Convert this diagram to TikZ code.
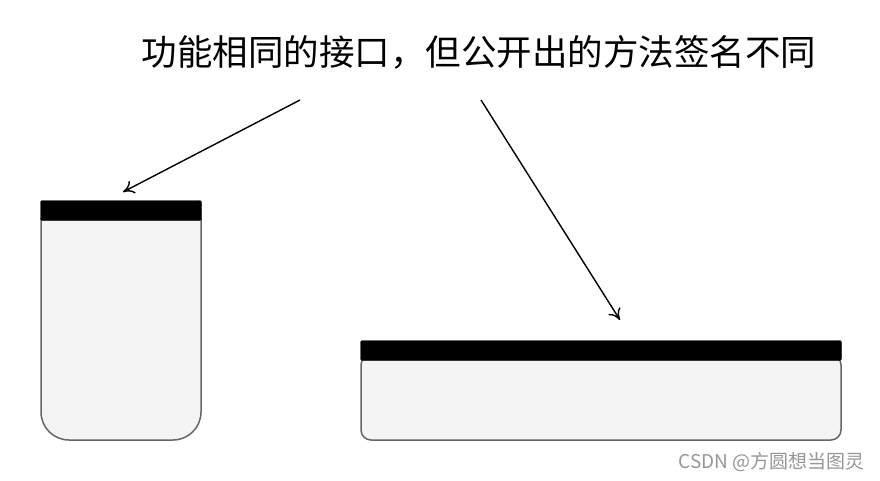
\documentclass[tikz,border=0pt]{standalone}
\usepackage{fontspec}
\usetikzlibrary{arrows.meta}
\newfontfamily\cjk{Noto Sans CJK SC}
\begin{document}
\begin{tikzpicture}[x=1pt,y=-1pt,
  body/.style={fill={rgb,255:red,244;green,244;blue,244},draw={rgb,255:red,102;green,102;blue,102},line width=1.5pt},
  bar/.style={fill=black,draw=black,rounded corners=2pt},
  arr/.style={-{To[length=11pt,width=14pt]},line width=1.4pt}]
\useasboundingbox (0,0) rectangle (880,480);
\node[font=\cjk\fontsize{35.5}{40}\selectfont,anchor=center] (title) at (479,52) {功能相同的接口，但公开出的方法签名不同};
\draw[body,rounded corners=28pt] (41,218) -- (41,440) -- (201,440) -- (201,218);
\node[bar,minimum width=161pt,minimum height=20pt,inner sep=0pt] (lbar) at (121,210.5) {};
\draw[body,rounded corners=10pt] (361,355) rectangle (841,440);
\node[bar,minimum width=481pt,minimum height=20pt,inner sep=0pt] (rbar) at (601,350.5) {};
\coordinate (a1) at (300,100);
\coordinate (a2) at (481,100);
\coordinate (t1) at (123,192);
\coordinate (t2) at (620,320);
\draw[arr] (a1) -- (t1);
\draw[arr] (a2) -- (t2);
\node[font=\cjk\fontsize{19}{22}\selectfont,text={rgb,255:red,150;green,150;blue,150},anchor=east,inner sep=0pt] (wm) at (865,462) {CSDN @方圆想当图灵};
\end{tikzpicture}
\end{document}
